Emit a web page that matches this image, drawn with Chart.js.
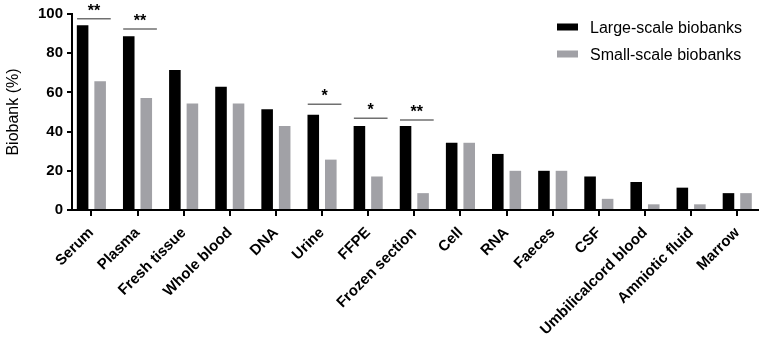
<!DOCTYPE html>
<html lang="en">
<head>
    <meta charset="UTF-8">
    <title>Biobank sample types</title>
    <script src="https://cdn.jsdelivr.net/npm/chart.js"></script>
    <style>
        html, body { margin: 0; padding: 0; background: #fff; }
        #wrap { width: 765px; height: 337px; }
    </style>
</head>
<body>
    <div id="wrap"><canvas id="sampleChart" width="765" height="337"></canvas></div>
    <script>
        // sample types stored, % of biobanks
        const categories = ["Serum", "Plasma", "Fresh tissue", "Whole blood", "DNA", "Urine", "FFPE",
            "Frozen section", "Cell", "RNA", "Faeces", "CSF", "Umbilicalcord blood", "Amniotic fluid", "Marrow"];
        const largeScale = [94.3, 88.6, 71.4, 62.9, 51.4, 48.6, 42.9, 42.9, 34.3, 28.6, 20.0, 17.1, 14.3, 11.4, 8.6];
        const smallScale = [65.7, 57.1, 54.3, 54.3, 42.9, 25.7, 17.1, 8.6, 34.3, 20.0, 20.0, 5.7, 2.9, 2.9, 8.6];
        const yTicks = [0, 20, 40, 60, 80, 100];
        const xMin = -0.42, xMax = 14.45;

        // significance brackets
        const sigCategories = ["Serum", "Plasma", "Urine", "FFPE", "Frozen section"];
        const sigMarks = ["**", "**", "*", "*", "**"];
        const sigLevels = [97.6, 92.3, 53.9, 46.8, 45.9];

        const seriesNames = ["Large-scale biobanks", "Small-scale biobanks"];
        const seriesColors = ["#000000", "#a1a1a6"];

        const FONT = "'Liberation Sans', Arial, sans-serif";

        const toPoints = arr => arr.map((v, i) => ({ x: i, y: v }));

        const extras = {
            id: "extras",
            afterDatasetsDraw(chart) {
                const ctx = chart.ctx;
                const x = chart.scales.x, y = chart.scales.y;
                const step = x.getPixelForValue(1) - x.getPixelForValue(0);
                ctx.save();
                // brackets + stars
                sigCategories.forEach((cat, k) => {
                    const xc = x.getPixelForValue(categories.indexOf(cat));
                    const yl = y.getPixelForValue(sigLevels[k]);
                    const x0 = xc - 0.31 * step, x1 = xc + 0.42 * step;
                    ctx.strokeStyle = "#707070";
                    ctx.lineWidth = 1.5;
                    ctx.beginPath();
                    ctx.moveTo(x0, yl);
                    ctx.lineTo(x1, yl);
                    ctx.stroke();
                    ctx.fillStyle = "#000";
                    ctx.font = "bold 16px " + FONT;
                    ctx.textAlign = "center";
                    ctx.textBaseline = "alphabetic";
                    ctx.fillText(sigMarks[k], (x0 + x1) / 2, yl - 3);
                });
                // legend
                const lx = chart.width - 208;
                seriesNames.forEach((name, k) => {
                    const cy = 27 + k * 27;
                    ctx.fillStyle = seriesColors[k];
                    ctx.fillRect(lx, cy - 3.5, 21, 7);
                    ctx.fillStyle = "#000";
                    ctx.font = "16px " + FONT;
                    ctx.textAlign = "left";
                    ctx.textBaseline = "middle";
                    ctx.fillText(name, lx + 33, cy + 2);
                });
                ctx.restore();
            }
        };

        new Chart(document.getElementById("sampleChart").getContext("2d"), {
            type: "bar",
            data: {
                datasets: [
                    { label: seriesNames[0], data: toPoints(largeScale), backgroundColor: seriesColors[0],
                      categoryPercentage: 0.76, barPercentage: 0.66 },
                    { label: seriesNames[1], data: toPoints(smallScale), backgroundColor: seriesColors[1],
                      categoryPercentage: 0.76, barPercentage: 0.66 }
                ]
            },
            options: {
                responsive: false,
                animation: false,
                devicePixelRatio: 1,
                layout: { padding: { left: 0, right: 7, top: 14, bottom: 0 } },
                plugins: { legend: { display: false }, tooltip: { enabled: false } },
                scales: {
                    x: {
                        type: "linear",
                        min: xMin,
                        max: xMax,
                        offset: false,
                        grid: { offset: false, drawOnChartArea: false, tickLength: 6, color: "#000", lineWidth: 2 },
                        border: { color: "#000", width: 2 },
                        ticks: {
                            stepSize: 1,
                            includeBounds: false,
                            autoSkip: false,
                            minRotation: 45,
                            maxRotation: 45,
                            padding: 8,
                            color: "#000",
                            font: { family: FONT, size: 15, weight: "bold" },
                            callback: v => categories[v]
                        },
                        afterFit: s => { s.height = 127; }
                    },
                    y: {
                        min: 0,
                        max: 100,
                        grid: { drawOnChartArea: false, tickLength: 5, color: "#000", lineWidth: 2 },
                        border: { color: "#000", width: 2 },
                        ticks: {
                            padding: 4,
                            color: "#000",
                            font: { family: FONT, size: 15, weight: "bold" }
                        },
                        afterBuildTicks: s => { s.ticks = yTicks.map(v => ({ value: v })); },
                        title: {
                            display: true,
                            text: "Biobank (%)",
                            color: "#000",
                            padding: { top: 4, bottom: 0 },
                            font: { family: FONT, size: 16 }
                        },
                        afterFit: s => { s.width = 72; }
                    }
                }
            },
            plugins: [extras]
        });
    </script>
</body>
</html>
